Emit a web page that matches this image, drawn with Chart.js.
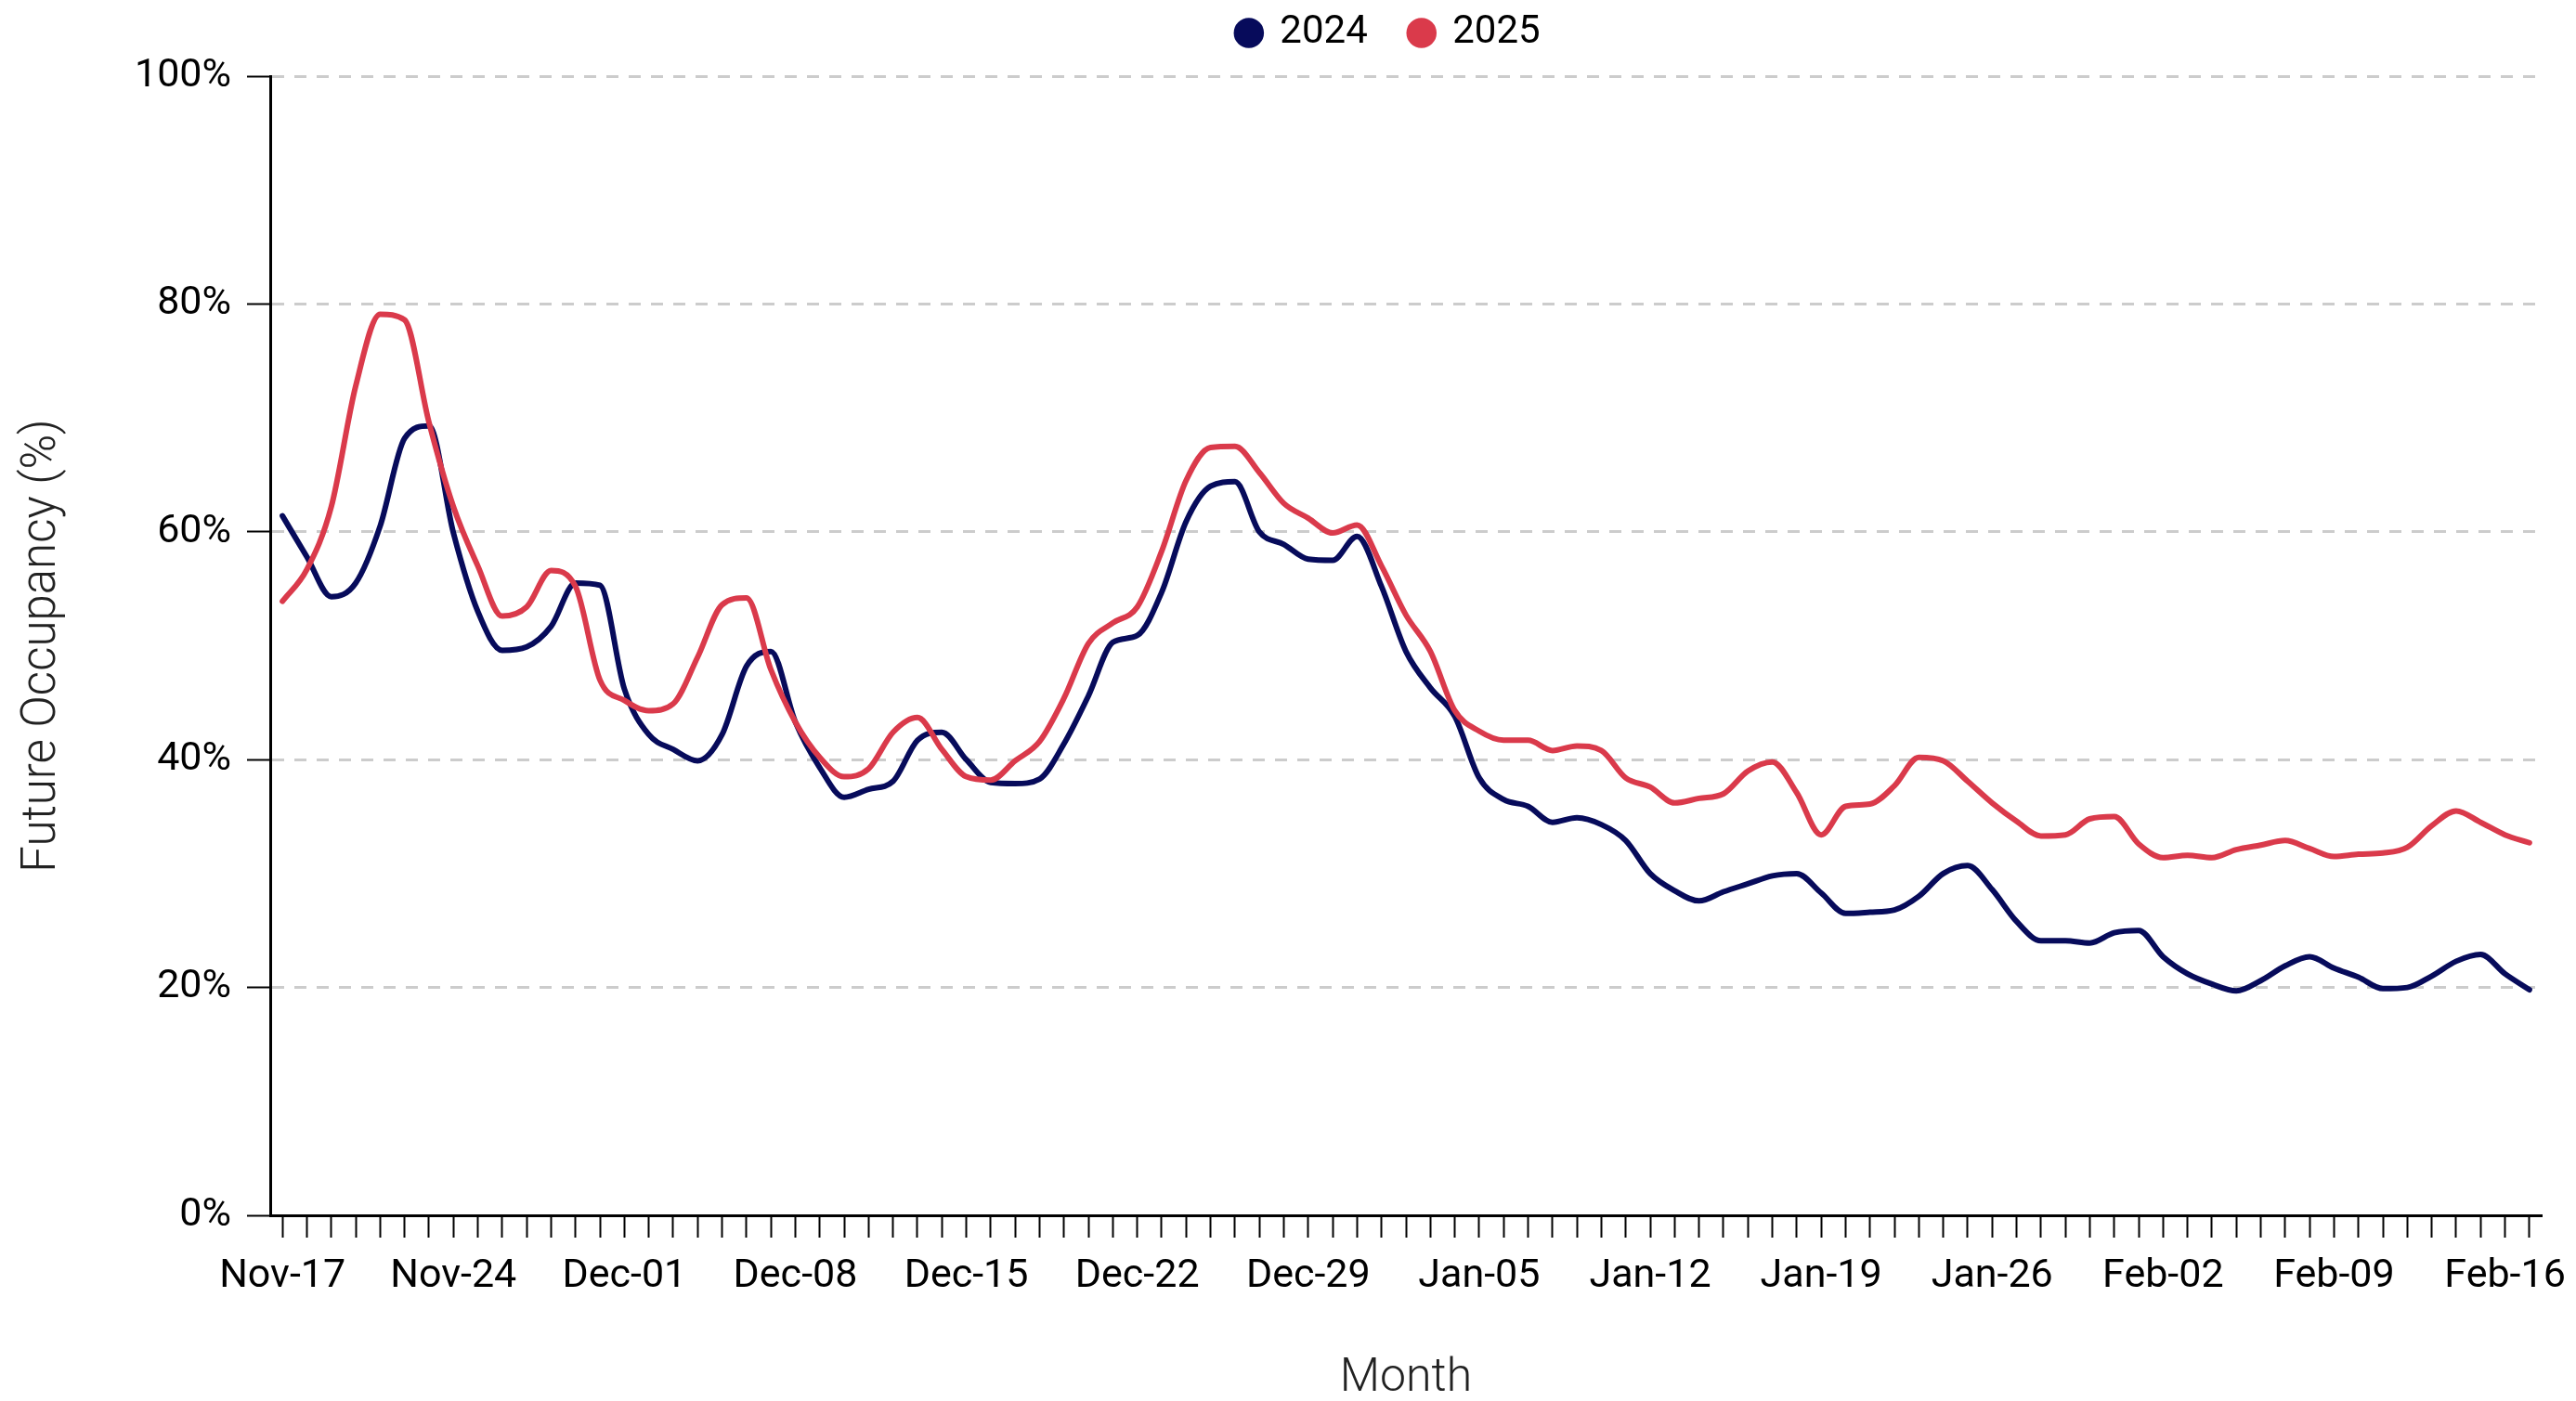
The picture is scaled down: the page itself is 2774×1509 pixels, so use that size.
<!DOCTYPE html>
<html>
<head>
<meta charset="utf-8">
<title>Future Occupancy</title>
<script src="https://cdn.jsdelivr.net/npm/chart.js@4.4.1/dist/chart.umd.min.js"></script>
<style>
  html, body { margin: 0; padding: 0; background: #fff; }
  #wrap { width: 2774px; height: 1509px; }
</style>
</head>
<body>
<div id="wrap"><canvas id="occChart"></canvas></div>
<script>
const days = [
    "Nov-17", "Nov-18", "Nov-19", "Nov-20", "Nov-21", "Nov-22", "Nov-23", "Nov-24", "Nov-25", "Nov-26",
    "Nov-27", "Nov-28", "Nov-29", "Nov-30", "Dec-01", "Dec-02", "Dec-03", "Dec-04", "Dec-05", "Dec-06",
    "Dec-07", "Dec-08", "Dec-09", "Dec-10", "Dec-11", "Dec-12", "Dec-13", "Dec-14", "Dec-15", "Dec-16",
    "Dec-17", "Dec-18", "Dec-19", "Dec-20", "Dec-21", "Dec-22", "Dec-23", "Dec-24", "Dec-25", "Dec-26",
    "Dec-27", "Dec-28", "Dec-29", "Dec-30", "Dec-31", "Jan-01", "Jan-02", "Jan-03", "Jan-04", "Jan-05",
    "Jan-06", "Jan-07", "Jan-08", "Jan-09", "Jan-10", "Jan-11", "Jan-12", "Jan-13", "Jan-14", "Jan-15",
    "Jan-16", "Jan-17", "Jan-18", "Jan-19", "Jan-20", "Jan-21", "Jan-22", "Jan-23", "Jan-24", "Jan-25",
    "Jan-26", "Jan-27", "Jan-28", "Jan-29", "Jan-30", "Jan-31", "Feb-01", "Feb-02", "Feb-03", "Feb-04",
    "Feb-05", "Feb-06", "Feb-07", "Feb-08", "Feb-09", "Feb-10", "Feb-11", "Feb-12", "Feb-13", "Feb-14",
    "Feb-15", "Feb-16", "Feb-17"
];

const occ2024 = [
    61.4, 57.8, 54.3, 55.5, 60.5, 68.2, 69.3, 59.9, 53.0, 49.6,
    49.9, 51.7, 55.5, 55.3, 46.2, 42.2, 40.9, 39.9, 42.2, 48.2,
    49.5, 43.3, 39.3, 36.7, 37.4, 38.1, 41.7, 42.4, 40.0, 38.0,
    37.9, 38.3, 41.4, 45.6, 50.3, 50.9, 54.7, 60.9, 64.0, 64.4,
    60.0, 58.9, 57.6, 57.5, 59.6, 55.2, 49.5, 46.3, 43.8, 38.4,
    36.5, 35.9, 34.5, 34.9, 34.3, 32.9, 30.0, 28.5, 27.6, 28.4,
    29.1, 29.8, 30.0, 28.3, 26.5, 26.6, 26.8, 28.0, 30.0, 30.7,
    28.6, 25.8, 24.1, 24.1, 23.9, 24.8, 25.0, 22.7, 21.2, 20.3,
    19.7, 20.6, 21.9, 22.7, 21.7, 20.9, 19.9, 20.0, 21.0, 22.3,
    22.9, 21.2, 19.8
];

const occ2025 = [
    53.9, 56.7, 62.2, 72.8, 79.1, 78.6, 69.6, 62.2, 57.0, 52.6,
    53.4, 56.6, 55.2, 47.0, 45.2, 44.3, 44.9, 49.0, 53.6, 54.2,
    47.9, 43.3, 40.2, 38.5, 39.2, 42.4, 43.7, 40.9, 38.5, 38.2,
    39.9, 41.6, 45.4, 50.2, 52.0, 53.4, 58.3, 64.5, 67.4, 67.5,
    65.2, 62.5, 61.2, 59.9, 60.6, 57.0, 52.7, 49.5, 44.3, 42.5,
    41.7, 41.7, 40.8, 41.2, 40.8, 38.4, 37.6, 36.2, 36.6, 37.0,
    39.0, 39.8, 37.1, 33.4, 35.9, 36.1, 37.7, 40.2, 39.9, 38.1,
    36.2, 34.6, 33.3, 33.4, 34.8, 35.0, 32.6, 31.4, 31.6, 31.4,
    32.1, 32.5, 32.9, 32.2, 31.5, 31.7, 31.8, 32.3, 34.2, 35.5,
    34.5, 33.4, 32.7
];

const yTicks = [0, 20, 40, 60, 80, 100];

const NAVY = "#070b5b";
const RED = "#da3a4b";
const FONT = "Roboto";

// legend: fixed height and nudged to the right like the original
const legendPlacement = {
    id: "legendPlacement",
    beforeInit(chart) {
        const fit = chart.legend.fit;
        chart.legend.fit = function () {
            fit.call(this);
            this.height = 113;
        };
    },
    afterLayout(chart) {
        chart.legend.left += 127;
        chart.legend.right += 127;
    }
};

new Chart(document.getElementById("occChart"), {
    type: "line",
    data: {
        labels: days,
        datasets: [
            {
                label: "2024",
                data: occ2024,
                borderColor: NAVY,
                backgroundColor: NAVY,
                order: 2
            },
            {
                label: "2025",
                data: occ2025,
                borderColor: RED,
                backgroundColor: RED,
                order: 1
            }
        ]
    },
    options: {
        responsive: true,
        maintainAspectRatio: false,
        devicePixelRatio: 1,
        animation: false,
        events: [],
        layout: { padding: { top: -31, left: 0, right: 37, bottom: 0 } },
        elements: {
            point: { radius: 0 },
            line: {
                borderWidth: 6,
                cubicInterpolationMode: "monotone",
                borderCapStyle: "round",
                borderJoinStyle: "round"
            }
        },
        plugins: {
            tooltip: { enabled: false },
            legend: {
                position: "top",
                labels: {
                    usePointStyle: true,
                    pointStyle: "circle",
                    boxWidth: 25,
                    boxHeight: 23,
                    padding: 45.5,
                    color: "#000",
                    font: { family: FONT, size: 42 },
                    sort: (a, b) => a.datasetIndex - b.datasetIndex,
                    generateLabels: chart =>
                        Chart.defaults.plugins.legend.labels.generateLabels(chart)
                            .map(item => ({ ...item, lineWidth: 0 }))
                }
            }
        },
        scales: {
            x: {
                offset: true,
                afterFit: scale => { scale.height = 200; },
                grid: {
                    drawOnChartArea: false,
                    tickLength: 24,
                    tickColor: "#000",
                    tickWidth: 2
                },
                border: { color: "#000", width: 3 },
                ticks: {
                    autoSkip: false,
                    maxRotation: 0,
                    minRotation: 0,
                    padding: 16,
                    color: "#000",
                    font: { family: FONT, size: 43 },
                    callback: (val, i) => (i % 7 === 0 ? days[i] : "")
                },
                title: {
                    display: true,
                    text: "Month",
                    color: "#222",
                    font: { family: FONT, size: 50, weight: 300, lineHeight: 1 },
                    padding: { top: 0, bottom: -1 }
                }
            },
            y: {
                min: 0,
                max: 100,
                afterFit: scale => { scale.width = 291; },
                afterBuildTicks: scale => { scale.ticks = yTicks.map(v => ({ value: v })); },
                grid: {
                    color: ctx => (ctx.tick && ctx.tick.value === 0 ? "rgba(0,0,0,0)" : "#cccccc"),
                    lineWidth: 3,
                    tickLength: 25,
                    tickColor: "#000",
                    tickWidth: 2
                },
                border: { color: "#000", width: 3, dash: [13, 11] },
                ticks: {
                    padding: 17,
                    color: "#000",
                    font: { family: FONT, size: 43 },
                    callback: v => v + "%"
                },
                title: {
                    display: true,
                    text: "Future Occupancy (%)",
                    color: "#222",
                    font: { family: FONT, size: 51, weight: 300 },
                    padding: { top: 16, bottom: 0 }
                }
            }
        }
    },
    plugins: [legendPlacement]
});
</script>
</body>
</html>
